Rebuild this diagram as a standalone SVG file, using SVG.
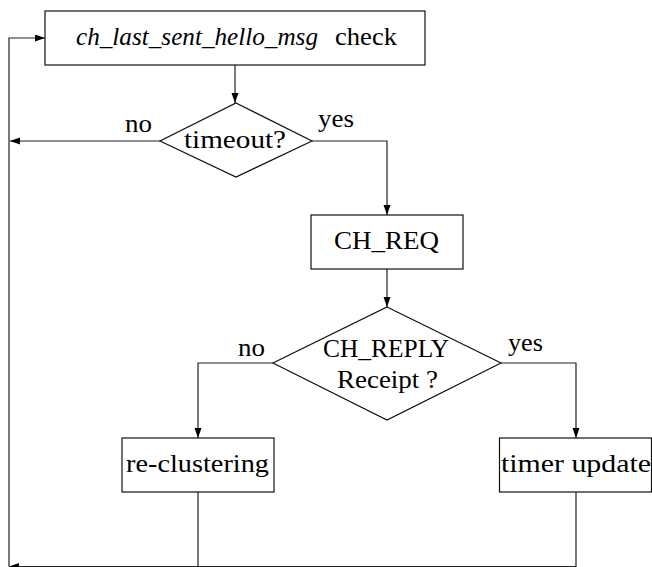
<svg xmlns="http://www.w3.org/2000/svg" width="652" height="567" viewBox="0 0 652 567">
<style>
.box{fill:#fff;stroke:#111;stroke-width:1.2}
.edge{fill:none;stroke:#222;stroke-width:1.2}
text{font-family:"Liberation Serif","DejaVu Serif",serif;font-size:26px;fill:#000}
.it{font-style:italic}
</style>
<defs>
<marker id="arr" markerUnits="userSpaceOnUse" markerWidth="12" markerHeight="8" refX="10" refY="3.5" orient="auto">
<path d="M0,0 L10,3.5 L0,7 Z" fill="#000"/>
</marker>
</defs>
<rect width="652" height="567" fill="#fff"/>
<g id="connectors">
<path class="edge" d="M235,65 V103" marker-end="url(#arr)"/>
<path class="edge" d="M160,141 H10" marker-end="url(#arr)"/>
<path class="edge" d="M312,141 H387 V215" marker-end="url(#arr)"/>
<path class="edge" d="M387,269 V307" marker-end="url(#arr)"/>
<path class="edge" d="M273,363 H198 V438" marker-end="url(#arr)"/>
<path class="edge" d="M501,363 H576 V438" marker-end="url(#arr)"/>
<path class="edge" d="M198,492 V566.5"/>
<path class="edge" d="M576,492 V566.5 H9" marker-end="url(#arr)"/>
<path class="edge" d="M9,566.5 V38 H45" marker-end="url(#arr)"/>
</g>
<g id="n-check">
<rect class="box" x="45" y="11" width="380" height="54"/>
<text x="76" y="45"><tspan class="it" textLength="242" lengthAdjust="spacingAndGlyphs">ch_last_sent_hello_msg</tspan></text>
<text x="335" y="45" textLength="62" lengthAdjust="spacingAndGlyphs">check</text>
</g>
<g id="n-timeout">
<path class="box" d="M236,103 L312,141 L236,177 L160,141 Z"/>
<text x="184" y="148" textLength="102" lengthAdjust="spacingAndGlyphs">timeout?</text>
<text x="125" y="132" textLength="27" lengthAdjust="spacingAndGlyphs">no</text>
<text x="318" y="127" textLength="36" lengthAdjust="spacingAndGlyphs">yes</text>
</g>
<g id="n-chreq">
<rect class="box" x="311" y="215" width="152" height="54"/>
<text x="334" y="249" textLength="105" lengthAdjust="spacingAndGlyphs">CH_REQ</text>
</g>
<g id="n-reply">
<path class="box" d="M387,307 L501,363 L387,420 L273,363 Z"/>
<text x="323" y="357" textLength="126" lengthAdjust="spacingAndGlyphs">CH_REPLY</text>
<text x="337" y="388" textLength="101" lengthAdjust="spacingAndGlyphs">Receipt ?</text>
<text x="238" y="356" textLength="27" lengthAdjust="spacingAndGlyphs">no</text>
<text x="508" y="351" textLength="35" lengthAdjust="spacingAndGlyphs">yes</text>
</g>
<g id="n-recluster">
<rect class="box" x="122" y="438" width="152" height="54"/>
<text x="126" y="472" textLength="143" lengthAdjust="spacingAndGlyphs">re-clustering</text>
</g>
<g id="n-timer">
<rect class="box" x="499.5" y="438" width="152" height="54"/>
<text x="501" y="472" textLength="150" lengthAdjust="spacingAndGlyphs">timer update</text>
</g>
</svg>
